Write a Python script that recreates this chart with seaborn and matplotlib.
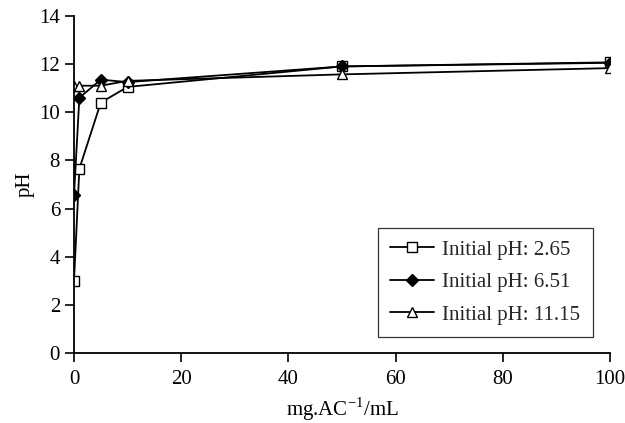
import matplotlib
matplotlib.use('Agg')
import matplotlib.pyplot as plt
import pandas as pd
import seaborn as sns

# dose de carvão ativado (mg/mL) e pH medido
dose = [0, 1, 5, 10, 50, 100]
ph_265 = [3.0, 7.65, 10.4, 11.05, 11.9, 12.07]
ph_651 = [6.55, 10.6, 11.35, 11.25, 11.9, 12.05]
ph_1115 = [11.1, 11.1, 11.1, 11.3, 11.57, 11.83]
labels = ['Initial pH: 2.65', 'Initial pH: 6.51', 'Initial pH: 11.15']

sns.set_theme(style='ticks')
plt.rcParams['font.family'] = ['Liberation Serif', 'DejaVu Serif']
plt.rcParams['mathtext.fontset'] = 'custom'
plt.rcParams['mathtext.rm'] = 'Liberation Serif'

df = pd.DataFrame({'dose': dose * 3,
                   'ph': ph_265 + ph_651 + ph_1115,
                   'serie': [labels[0]] * 6 + [labels[1]] * 6 + [labels[2]] * 6})

fig = plt.figure(figsize=(6.25, 4.23), dpi=100)
ax = fig.add_axes([0.1184, 0.1655, 0.8576, 0.797])

estilos = [('s', 'white'), ('D', 'black'), ('^', 'white')]
for lab, (mk, fc) in zip(labels, estilos):
    sub = df[df['serie'] == lab]
    sns.lineplot(x='dose', y='ph', data=sub, ax=ax, color='black', linewidth=1.3,
                 marker=mk, markersize=7 if mk != 'D' else 6, markerfacecolor=fc,
                 markeredgecolor='black', markeredgewidth=1, label=lab)

ax.set_xlim(0, 100)
ax.set_ylim(0, 14)
ax.set_xticks(range(0, 101, 20))
ax.set_yticks(range(0, 15, 2))
ax.set_xlabel('mg.AC$^{-1}$/mL', fontsize=15, color='black', labelpad=4)
ax.set_ylabel('pH', fontsize=15, color='black', labelpad=3)
ax.tick_params(labelsize=15, colors='black', length=6.5, width=1.2, direction='out')
ax.tick_params(axis='x', pad=6)
for s in ['top', 'right']:
    ax.spines[s].set_visible(False)
for s in ['left', 'bottom']:
    ax.spines[s].set_linewidth(1.3)
    ax.spines[s].set_color('black')

leg = ax.legend(loc='lower right', bbox_to_anchor=(0.968, 0.047), borderaxespad=0,
                fontsize=15, fancybox=False, frameon=True, handlelength=2.1,
                handletextpad=0.4, borderpad=0.6, labelspacing=0.62)
leg.get_frame().set_edgecolor('black')
leg.get_frame().set_linewidth(0.9)

fig.savefig('out.png', dpi=100)
